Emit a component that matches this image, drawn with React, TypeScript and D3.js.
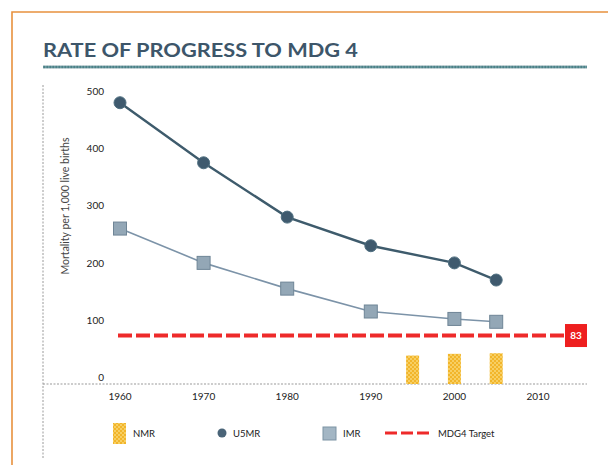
import React from "react";
import * as d3 from "d3";

const years = [1960, 1970, 1980, 1990, 2000, 2005];
const u5mr = [490, 385, 290, 240, 210, 180];
const imr = [270, 210, 165, 125, 112, 107];
const nmrYears = [1995, 2000, 2005];
const nmr = [48, 51, 52];
const targetValue = 83;
const xTicks = [1960, 1970, 1980, 1990, 2000, 2010];
const yTicks = [0, 100, 200, 300, 400, 500];
const legendItems = ["NMR", "U5MR", "IMR", "MDG4 Target"];
const title = "RATE OF PROGRESS TO MDG 4";
const yTitle = "Mortality per 1,000 live births";

const W = 608;
const H = 465;
const FONT = "Lato, 'Open Sans', sans-serif";

export default function App() {
  const x = d3.scaleLinear().domain([1960, 2010]).range([120, 538]);
  const y = d3.scaleLinear().domain([0, 500]).range([383, 97]);
  const line = d3
    .line<number>()
    .x((_, i) => x(years[i]))
    .y((d) => y(d));
  const barW = 13;
  const targetY = y(targetValue);

  return (
    <svg
      width={W}
      height={H}
      style={{ position: "absolute", left: 0, top: 0, background: "#fff" }}
      fontFamily={FONT}
    >
      <defs>
        <pattern id="chk" width="4" height="4" patternUnits="userSpaceOnUse">
          <rect width="4" height="4" fill="#f2b52a" />
          <rect x="0" y="0" width="2" height="2" fill="#f7cf63" />
          <rect x="2" y="2" width="2" height="2" fill="#f7cf63" />
        </pattern>
        <pattern id="rule" width="3" height="4" patternUnits="userSpaceOnUse">
          <rect width="3" height="4" fill="#6b9ea3" />
          <rect x="0" y="0" width="1.5" height="2" fill="#9aa8b0" />
          <rect x="1.5" y="2" width="1.5" height="2" fill="#4e7f86" />
        </pattern>
      </defs>

      {/* frame */}
      <path d={`M12,${H} L12,12 L${W},12`} fill="none" stroke="#e8913e" strokeWidth={1.6} />

      {/* title */}
      <text
        x={43}
        y={57}
        fontSize={19}
        fontWeight={700}
        fill="#3d566a"
        textLength={315}
        lengthAdjust="spacingAndGlyphs"
      >
        {title}
      </text>
      <rect x={43} y={65.5} width={544} height={3} fill="url(#rule)" />

      {/* axes */}
      <line x1={43} x2={43} y1={85} y2={458} stroke="#9a9a9a" strokeWidth={1} strokeDasharray="2,1.5" />
      <line x1={43} x2={587} y1={384} y2={384} stroke="#9a9a9a" strokeWidth={1.2} strokeDasharray="2,1.5" />

      {/* y tick labels */}
      {yTicks.map((t) => (
        <text key={t} x={104} y={y(t) - 2} fontSize={10} fill="#222" textAnchor="end">
          {t}
        </text>
      ))}
      <text
        transform={`translate(69,206) rotate(-90)`}
        fontSize={10.5}
        fill="#444"
        textAnchor="middle"
      >
        {yTitle}
      </text>

      {/* x tick labels */}
      {xTicks.map((t) => (
        <text key={t} x={x(t)} y={400} fontSize={10} fill="#222" textAnchor="middle">
          {t}
        </text>
      ))}

      {/* NMR bars */}
      {nmr.map((v, i) => (
        <rect
          key={i}
          x={x(nmrYears[i]) - barW / 2}
          y={y(v)}
          width={barW}
          height={384 - y(v)}
          fill="url(#chk)"
        />
      ))}

      {/* target line */}
      <line
        x1={118}
        x2={566}
        y1={targetY}
        y2={targetY}
        stroke="#ee2a2a"
        strokeWidth={4}
        strokeDasharray="14,4"
      />
      <rect x={565} y={targetY - 11.5} width={22} height={23} fill="#ee1f1f" />
      <text
        x={576}
        y={targetY + 3.5}
        fontSize={10}
        fontWeight={700}
        fill="#fff"
        textAnchor="middle"
      >
        {targetValue}
      </text>

      {/* IMR */}
      <path d={line(imr) || ""} fill="none" stroke="#7c93a8" strokeWidth={1.6} />
      {imr.map((v, i) => (
        <rect
          key={i}
          x={x(years[i]) - 6.5}
          y={y(v) - 6.5}
          width={13}
          height={13}
          fill="#93a7b6"
          stroke="#6f8596"
          strokeWidth={1}
        />
      ))}

      {/* U5MR */}
      <path d={line(u5mr) || ""} fill="none" stroke="#3e5b6c" strokeWidth={2.4} />
      {u5mr.map((v, i) => (
        <circle key={i} cx={x(years[i])} cy={y(v)} r={6} fill="#3f5a6e" stroke="#4f6f80" strokeWidth={1} />
      ))}

      {/* legend */}
      <g fontSize={9.5} fill="#222">
        <rect x={113} y={423} width={13} height={21} fill="url(#chk)" />
        <text x={133} y={437}>{legendItems[0]}</text>
        <circle cx={222} cy={433} r={4.5} fill="#4a6478" />
        <text x={233} y={437}>{legendItems[1]}</text>
        <rect x={323} y={427} width={13} height={13} fill="#a3b6c4" stroke="#7d93a4" />
        <text x={343} y={437}>{legendItems[2]}</text>
        <line x1={385} x2={433} y1={433} y2={433} stroke="#ee2a2a" strokeWidth={3} strokeDasharray="12,4" />
        <text x={438} y={437}>{legendItems[3]}</text>
      </g>
    </svg>
  );
}
